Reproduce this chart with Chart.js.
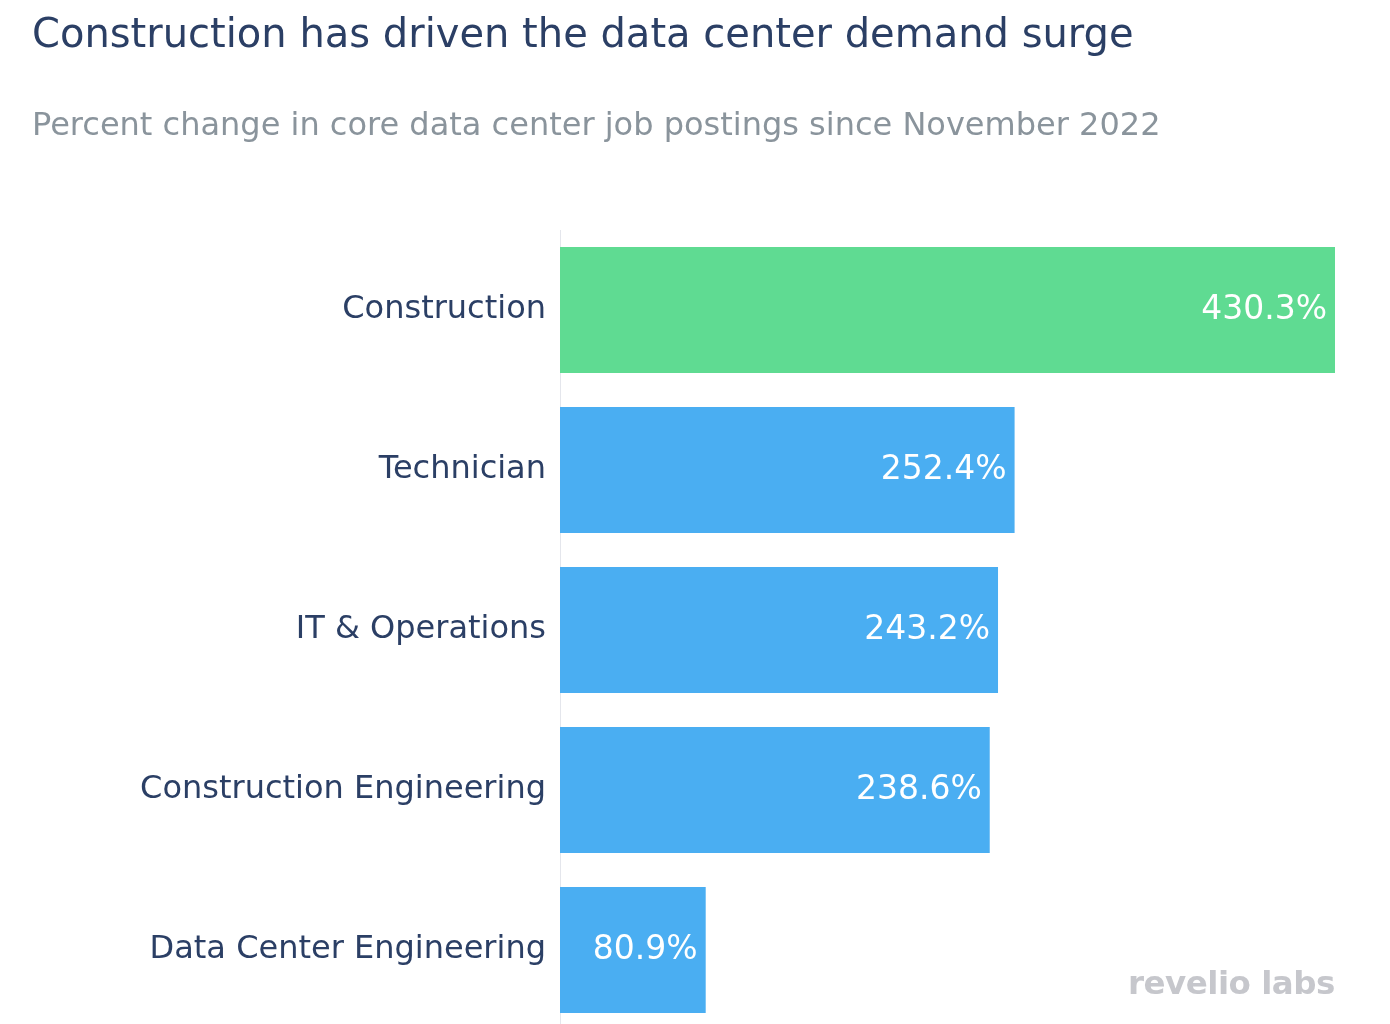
<!DOCTYPE html>
<html>
<head>
<meta charset="utf-8">
<script src="https://cdn.jsdelivr.net/npm/chart.js@4"></script>
<style>
  html, body { margin:0; padding:0; background:#fff; overflow:hidden; width:1390px; height:1024px; }
  #wrap { position:relative; width:1390px; height:1024px; }
  canvas { position:absolute; left:0; top:0; }
  .txt { position:absolute; font-family:"DejaVu Sans", Verdana, sans-serif; line-height:1; white-space:nowrap; }
  #title { left:32px; top:13px; font-size:40px; color:#2b3f65; }
  #subtitle { left:32px; top:108px; font-size:32px; color:#8a949c; }
  #logo { left:1128px; top:967px; font-size:32.5px; font-weight:bold; color:#c6c7cc; letter-spacing:-0.5px; }
</style>
</head>
<body>
<div id="wrap">
  <canvas id="c" width="1390" height="1030"></canvas>
  <div class="txt" id="title">Construction has driven the data center demand surge</div>
  <div class="txt" id="subtitle">Percent change in core data center job postings since November 2022</div>
  <div class="txt" id="logo">revelio labs</div>
</div>
<script>
const categories = ["Construction", "Technician", "IT & Operations", "Construction Engineering", "Data Center Engineering"];
const values = [430.3, 252.4, 243.2, 238.6, 80.9];
const barColors = ["#5fdb92", "#4aaef2", "#4aaef2", "#4aaef2", "#4aaef2"];

const valueLabels = {
  id: 'valueLabels',
  afterDatasetsDraw(chart) {
    const ctx = chart.ctx;
    const meta = chart.getDatasetMeta(0);
    ctx.save();
    ctx.font = '33px "DejaVu Sans", Verdana, sans-serif';
    ctx.fillStyle = '#ffffff';
    ctx.textAlign = 'right';
    ctx.textBaseline = 'middle';
    meta.data.forEach((bar, i) => {
      ctx.fillText(values[i].toFixed(1) + '%', bar.x - 8, bar.y);
    });
    ctx.restore();
  }
};

new Chart(document.getElementById('c'), {
  type: 'bar',
  data: {
    labels: categories,
    datasets: [{
      data: values,
      backgroundColor: barColors,
      borderWidth: 0,
      categoryPercentage: 1,
      barPercentage: 0.7875
    }]
  },
  options: {
    indexAxis: 'y',
    responsive: false,
    animation: false,
    layout: { padding: { top: 230, right: 55, bottom: 0, left: 0 } },
    plugins: { legend: { display: false }, tooltip: { enabled: false } },
    scales: {
      x: { display: false, min: 0, max: 430.3 },
      y: {
        afterFit(scale) { scale.width = 560; scale.paddingTop = 0; scale.paddingBottom = 0; },
        grid: { display: false, drawTicks: false },
        border: { display: true, color: '#e4e6ec', width: 1 },
        ticks: {
          padding: 14,
          color: '#2b3f65',
          font: { family: '"DejaVu Sans", Verdana, sans-serif', size: 32 }
        }
      }
    }
  },
  plugins: [valueLabels]
});
</script>
</body>
</html>
